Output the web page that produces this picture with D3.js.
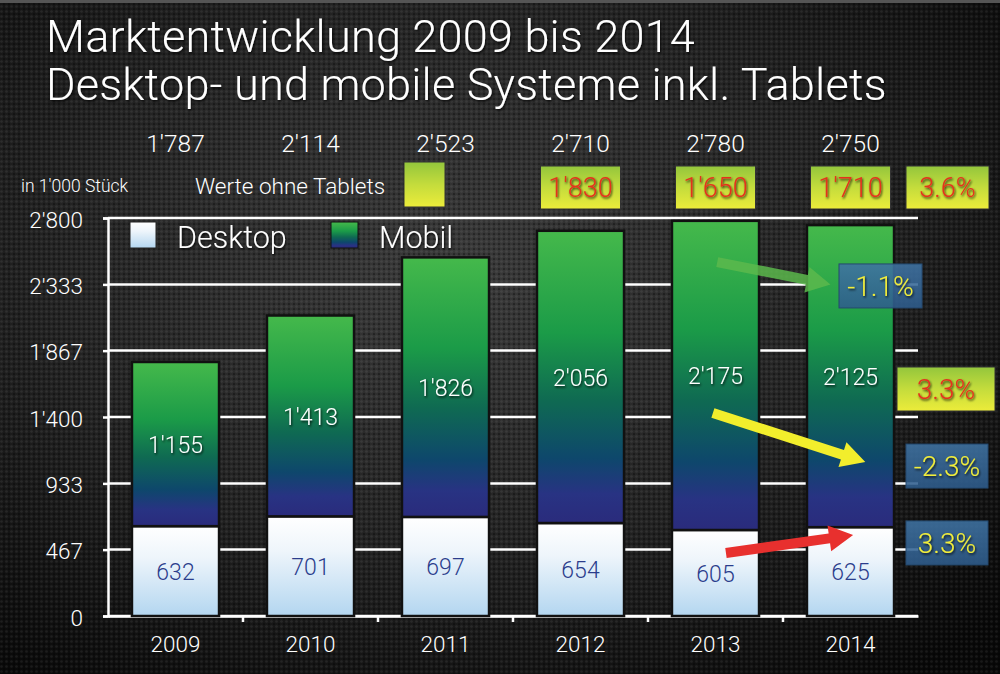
<!DOCTYPE html>
<html>
<head>
<meta charset="utf-8">
<script src="https://cdn.jsdelivr.net/npm/d3@7/dist/d3.min.js"></script>
<style>
html,body{margin:0;padding:0;background:#111;overflow:hidden;}
svg{display:block;}
text{font-family:"Roboto","Liberation Sans",Helvetica,Arial,sans-serif;font-weight:300;}
</style>
</head>
<body>
<svg id="chart" width="1000" height="674"></svg>
<script>
// ---------- data ----------
const years = ["2009","2010","2011","2012","2013","2014"];
const desktop = [632, 701, 697, 654, 605, 625];
const mobile = [1155, 1413, 1826, 2056, 2175, 2125];
const totals = [1787, 2114, 2523, 2710, 2780, 2750];
const yTicks = [0, 467, 933, 1400, 1867, 2333, 2800];
const titleLines = ["Marktentwicklung 2009 bis 2014", "Desktop- und mobile Systeme inkl. Tablets"];
// "Werte ohne Tablets" (values without tablets)
const noTabletYears = ["2012","2013","2014"];
const noTabletValues = ["1'830","1'650","1'710"];
const noTabletGrowth = "3.6%";
// percentage annotations on the right (value = vertical centre in data units)
const pctLabels = ["-1.1%", "3.3%", "-2.3%", "3.3%"];
const pctValues = [2322, 1597, 1055, 514];
const pctStyles = ["blue", "yellow", "blue", "blue"];
// arrows: from (year, fraction in band, value) to (year, fraction, value)
const arrowColors = ["#5cb84c", "#f2ee2c", "#e8302e"];
const arrowFrom = [["2013",0.52,2490],["2013",0.47,1428],["2013",0.62,443]];
const arrowTo   = [["2014",0.27,2332],["2014",0.67,1083],["2014",0.53,570]];

// ---------- setup ----------
const W = 1000, H = 674;
const svg = d3.select("#chart");
const defs = svg.append("defs");

// background
const bgGrad = defs.append("radialGradient").attr("id","bg").attr("cx","0.45").attr("cy","0.4").attr("r","0.75");
bgGrad.append("stop").attr("offset","0").attr("stop-color","#3a3a3a");
bgGrad.append("stop").attr("offset","0.55").attr("stop-color","#222");
bgGrad.append("stop").attr("offset","1").attr("stop-color","#080808");
const pat = defs.append("pattern").attr("id","dots").attr("patternUnits","userSpaceOnUse").attr("width",5).attr("height",5);
pat.append("circle").attr("cx",1.5).attr("cy",1.5).attr("r",1.3).attr("fill","rgba(255,255,255,0.07)");
pat.append("circle").attr("cx",4).attr("cy",4).attr("r",1.1).attr("fill","rgba(0,0,0,0.35)");
svg.append("rect").attr("width",W).attr("height",H).attr("fill","url(#bg)");
svg.append("rect").attr("width",W).attr("height",H).attr("fill","url(#dots)");
svg.append("rect").attr("width",W).attr("height",3).attr("fill","#555");

// gradients
function linGrad(id, stops){
  const g = defs.append("linearGradient").attr("id",id).attr("x1",0).attr("y1",0).attr("x2",0).attr("y2",1);
  stops.forEach(s=>g.append("stop").attr("offset",s[0]).attr("stop-color",s[1]).attr("stop-opacity", s[2]==null?1:s[2]));
}
linGrad("gDesk", [[0,"#ffffff"],[0.35,"#eef5fb"],[1,"#b3d6f0"]]);
linGrad("gMob", [[0,"#45b94b"],[0.35,"#1b9b48"],[0.58,"#0f6a52"],[0.78,"#0e476c"],[0.9,"#283383"],[1,"#2a2b7c"]]);
linGrad("gYel", [[0,"#93c63c"],[0.5,"#c4dc3c"],[1,"#ecec3a"]]);
linGrad("gBlue", [[0,"#3f73a3",0.88],[1,"#2e5c8c",0.88]]);

const shadow = defs.append("filter").attr("id","tshadow").attr("x","-20%").attr("y","-20%").attr("width","140%").attr("height","140%");
shadow.append("feDropShadow").attr("dx",1).attr("dy",1.5).attr("stdDeviation",0.8).attr("flood-color","#000").attr("flood-opacity",0.8);

// scales
const x = d3.scaleBand().domain(years).range([108, 918]).paddingInner(0.355).paddingOuter(0.1775);
const y = d3.scaleLinear().domain([0, 2800]).range([616, 218]);
const fmt = v => d3.format(",")(v).replace(/,/g,"'");

// title
svg.append("g").selectAll("text").data(titleLines).join("text")
  .attr("x",46).attr("y",(d,i)=>52+i*48)
  .attr("fill","#fff").attr("font-size",45).attr("letter-spacing",0.25)
  .attr("filter","url(#tshadow)")
  .text(d=>d);

// gridlines
svg.append("g").selectAll("line").data(yTicks).join("line")
  .attr("x1",108).attr("x2",918).attr("y1",d=>y(d)).attr("y2",d=>y(d))
  .attr("stroke","#fff").attr("stroke-width",2.5);

// y axis
const yAxis = svg.append("g").attr("transform","translate(108,0)")
  .call(d3.axisLeft(y).tickValues(yTicks).tickFormat(fmt).tickSize(5).tickPadding(20));
yAxis.attr("font-family",null);
yAxis.select(".domain").attr("stroke","#fff").attr("stroke-width",2.5);
yAxis.selectAll(".tick line").attr("stroke","#fff").attr("stroke-width",2.5);
yAxis.selectAll(".tick text").attr("fill","#fff").attr("font-size",22.5).attr("dy","0.4em");

// x axis
const xAxis = svg.append("g").attr("transform","translate(0,616)")
  .call(d3.axisBottom(x).tickSize(0).tickPadding(20));
xAxis.attr("font-family",null);
xAxis.select(".domain").attr("stroke","#fff").attr("stroke-width",2.5);
xAxis.selectAll(".tick text").attr("fill","#fff").attr("font-size",22.5);
// boundary tick marks
svg.append("g").selectAll("line").data(years.slice(1)).join("line")
  .attr("x1",d=>x(d)-x.step()*x.paddingInner()/2).attr("x2",d=>x(d)-x.step()*x.paddingInner()/2)
  .attr("y1",616).attr("y2",622).attr("stroke","#fff").attr("stroke-width",2.5);

// bars
const bars = svg.append("g");
bars.selectAll("rect.desk").data(years).join("rect").attr("class","desk")
  .attr("x",d=>x(d)).attr("width",x.bandwidth())
  .attr("y",(d,i)=>y(desktop[i])).attr("height",(d,i)=>y(0)-y(desktop[i]))
  .attr("fill","url(#gDesk)").attr("stroke","#111").attr("stroke-width",2.5);
bars.selectAll("rect.mob").data(years).join("rect").attr("class","mob")
  .attr("x",d=>x(d)).attr("width",x.bandwidth())
  .attr("y",(d,i)=>y(desktop[i]+mobile[i])).attr("height",(d,i)=>y(desktop[i])-y(desktop[i]+mobile[i]))
  .attr("fill","url(#gMob)").attr("stroke","#111").attr("stroke-width",2.5);

// bar labels
bars.selectAll("text.dl").data(years).join("text")
  .attr("x",d=>x(d)+x.bandwidth()/2).attr("y",(d,i)=>y(desktop[i]/2))
  .attr("dy","0.38em").attr("text-anchor","middle").attr("font-size",23).attr("fill","#2b3d8c")
  .text((d,i)=>fmt(desktop[i]));
bars.selectAll("text.ml").data(years).join("text")
  .attr("x",d=>x(d)+x.bandwidth()/2).attr("y",(d,i)=>y(desktop[i]+mobile[i]/2))
  .attr("dy","0.38em").attr("text-anchor","middle").attr("font-size",23).attr("fill","#fff")
  .attr("filter","url(#tshadow)")
  .text((d,i)=>fmt(mobile[i]));

// totals on top
svg.append("g").selectAll("text").data(years).join("text")
  .attr("x",d=>x(d)+x.bandwidth()/2).attr("y",152)
  .attr("text-anchor","middle").attr("font-size",24.5).attr("fill","#fff")
  .text((d,i)=>fmt(totals[i]));

// unit + tablets note
svg.append("text").attr("x",21).attr("y",192).attr("font-size",17.5).attr("fill","#fff").text("in 1'000 Stück");
svg.append("text").attr("x",195).attr("y",194).attr("font-size",22.5).attr("fill","#fff").text("Werte ohne Tablets");
svg.append("rect").attr("x",404).attr("y",162).attr("width",41).attr("height",45)
  .attr("fill","url(#gYel)").attr("stroke","#333").attr("stroke-width",1);

// yellow boxes (without tablets)
const yb = svg.append("g");
const boxW = 80, boxH = 43;
yb.selectAll("rect").data(noTabletYears).join("rect")
  .attr("x",d=>x(d)+x.bandwidth()/2-boxW/2).attr("y",166).attr("width",boxW).attr("height",boxH)
  .attr("fill","url(#gYel)").attr("stroke","#333").attr("stroke-width",1);
yb.selectAll("text").data(noTabletYears).join("text")
  .attr("x",d=>x(d)+x.bandwidth()/2).attr("y",197).attr("text-anchor","middle")
  .attr("font-size",27).attr("font-weight",400).attr("fill","#e4321e").attr("filter","url(#tshadow)")
  .text((d,i)=>noTabletValues[i]);
yb.append("rect").attr("x",906).attr("y",166).attr("width",83).attr("height",boxH)
  .attr("fill","url(#gYel)").attr("stroke","#333").attr("stroke-width",1);
yb.append("text").attr("x",947.5).attr("y",197).attr("text-anchor","middle")
  .attr("font-size",27).attr("font-weight",400).attr("fill","#e4321e").attr("filter","url(#tshadow)").text(noTabletGrowth);

// arrows (body + head as one polygon)
const ax = a => x(a[0]) + a[1]*x.bandwidth();
function arrowPath(i){
  const x1 = ax(arrowFrom[i]), y1 = y(arrowFrom[i][2]);
  const x2 = ax(arrowTo[i]), y2 = y(arrowTo[i][2]);
  const dx = x2-x1, dy = y2-y1, L = Math.hypot(dx,dy);
  const ux = dx/L, uy = dy/L, nx = -uy, ny = ux;
  const bw = 5, hw = 13, hl = 24;
  const bx = x2-ux*hl, by = y2-uy*hl;
  const p = [
    [x1+nx*bw, y1+ny*bw],[bx+nx*bw, by+ny*bw],[bx+nx*hw, by+ny*hw],[x2,y2],
    [bx-nx*hw, by-ny*hw],[bx-nx*bw, by-ny*bw],[x1-nx*bw, y1-ny*bw]
  ];
  return d3.line()(p)+"Z";
}
svg.append("g").selectAll("path").data(arrowColors).join("path")
  .attr("d",(d,i)=>arrowPath(i))
  .attr("fill",d=>d).attr("opacity",(d,i)=>i===0?0.85:1);

// percentage boxes on the right
const pctX = [839, 897, 906, 906];
const pctW = [83, 98, 82, 82];
const pg = svg.append("g").selectAll("g").data(pctLabels).join("g");
pg.append("rect")
  .attr("x",(d,i)=>pctX[i]).attr("width",(d,i)=>pctW[i])
  .attr("y",(d,i)=>y(pctValues[i])-22).attr("height",44)
  .attr("fill",(d,i)=>pctStyles[i]==="blue"?"url(#gBlue)":"url(#gYel)")
  .attr("stroke",(d,i)=>pctStyles[i]==="blue"?"#24496f":"#333").attr("stroke-width",1);
pg.append("text")
  .attr("x",(d,i)=>pctX[i]+pctW[i]/2).attr("y",(d,i)=>y(pctValues[i]))
  .attr("dy","0.36em").attr("text-anchor","middle").attr("font-size",28)
  .attr("fill",(d,i)=>pctStyles[i]==="blue"?"#f2ee3a":"#e4321e")
  .attr("filter","url(#tshadow)")
  .text(d=>d);

// legend
const leg = svg.append("g");
leg.append("rect").attr("x",130).attr("y",222).attr("width",26).attr("height",26).attr("fill","url(#gDesk)").attr("stroke","#222");
leg.append("text").attr("x",177).attr("y",248).attr("font-size",30.5).attr("fill","#fff").attr("filter","url(#tshadow)").text("Desktop");
leg.append("rect").attr("x",331).attr("y",222).attr("width",27).attr("height",26).attr("fill","url(#gMob)").attr("stroke","#111");
leg.append("text").attr("x",379).attr("y",248).attr("font-size",30.5).attr("fill","#fff").attr("filter","url(#tshadow)").text("Mobil");
</script>
</body>
</html>
